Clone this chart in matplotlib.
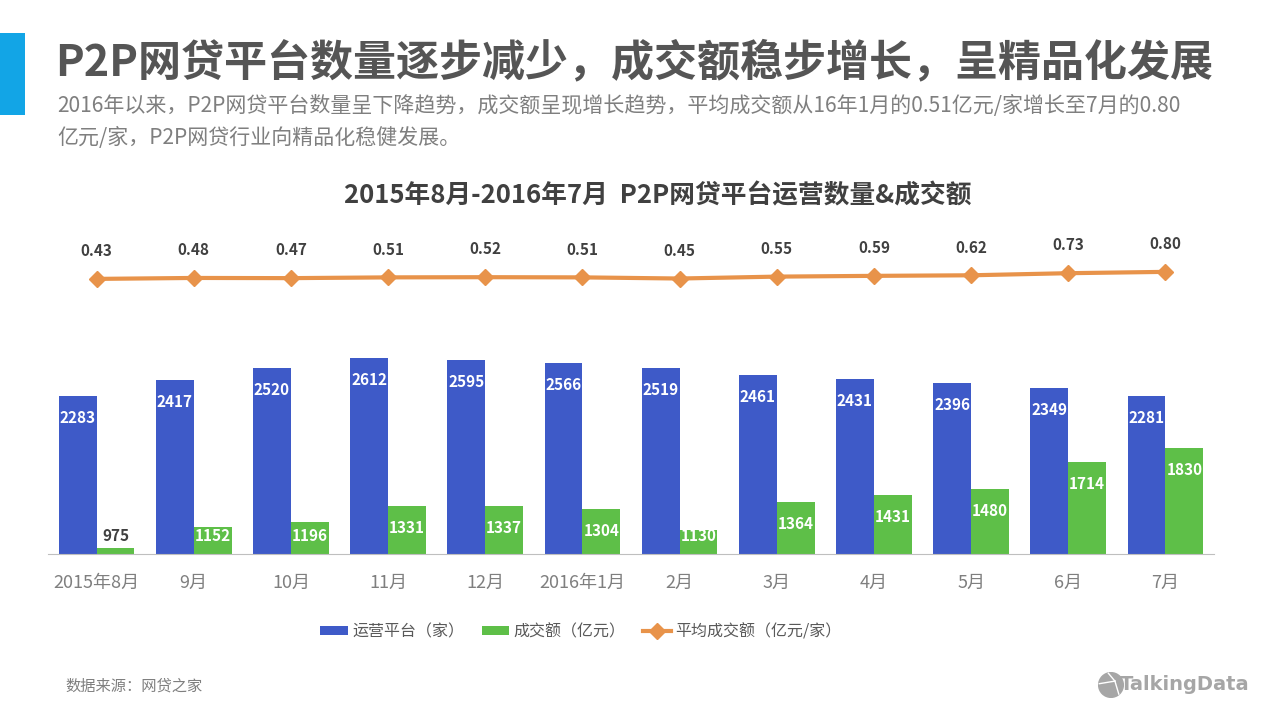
import matplotlib
matplotlib.use("Agg")
import matplotlib.pyplot as plt
from matplotlib.patches import Rectangle, Circle

plt.rcParams['font.family'] = ['Noto Sans CJK SC', 'DejaVu Sans']

months = ["2015年8月", "9月", "10月", "11月", "12月", "2016年1月",
          "2月", "3月", "4月", "5月", "6月", "7月"]
platforms = [2283, 2417, 2520, 2612, 2595, 2566, 2519, 2461, 2431, 2396, 2349, 2281]
volume = [975, 1152, 1196, 1331, 1337, 1304, 1130, 1364, 1431, 1480, 1714, 1830]
avg_volume = [0.43, 0.48, 0.47, 0.51, 0.52, 0.51, 0.45, 0.55, 0.59, 0.62, 0.73, 0.80]

blue = "#3E5AC8"
green = "#5EBF48"
orange = "#E8934A"

fig = plt.figure(figsize=(12.8, 7.2), dpi=100)
fig.patch.set_facecolor("white")

# header
fig.add_artist(Rectangle((0, 1 - 115 / 720), 25 / 1280, 82 / 720,
                         transform=fig.transFigure, color="#12A5E6", lw=0))
fig.text(55 / 1280, 1 - 62 / 720, "P2P网贷平台数量逐步减少，成交额稳步增长，呈精品化发展",
         fontsize=31, fontweight="heavy", color="#555555", va="center")
fig.text(57 / 1280, 1 - 106 / 720,
         "2016年以来，P2P网贷平台数量呈下降趋势，成交额呈现增长趋势，平均成交额从16年1月的0.51亿元/家增长至7月的0.80",
         fontsize=15.1, color="#7f7f7f", va="center")
fig.text(57 / 1280, 1 - 138 / 720, "亿元/家，P2P网贷行业向精品化稳健发展。",
         fontsize=15.1, color="#7f7f7f", va="center")
fig.text(658 / 1280, 1 - 196 / 720, "2015年8月-2016年7月  P2P网贷平台运营数量&成交额",
         fontsize=18.5, fontweight="bold", color="#404040", ha="center", va="center")

# bars
ax = fig.add_axes([48 / 1280, 166 / 720, 1166 / 1280, 334 / 720])
x = list(range(len(months)))
w = 0.39
lo, hi = 920, 3799
ax.bar([i - w / 2 for i in x], platforms, w, color=blue, label="运营平台（家）")
ax.bar([i + w / 2 for i in x], volume, w, color=green, label="成交额（亿元）")
ax.set_ylim(lo, hi)
ax.set_xlim(-0.5, len(months) - 0.5)

px = 334 / (hi - lo)  # pixels per unit
for i in x:
    for v, dx in ((platforms[i], -w / 2), (volume[i], w / 2)):
        y = max(v - 22 / px, lo + 18 / px)
        col = "white" if (v - lo) * px > 18 else "#404040"
        ax.text(i + dx, y, str(v), ha="center", va="center", fontsize=11,
                fontweight="bold", color=col)

for s in ["top", "right", "left"]:
    ax.spines[s].set_visible(False)
ax.spines["bottom"].set_color("#bfbfbf")
ax.set_yticks([])
ax.set_xticks(x)
ax.set_xticklabels(months, fontsize=13, color="#7f7f7f")
ax.tick_params(axis="x", length=0, pad=14)

# line
ax2 = ax.twinx()
ax2.plot(x, avg_volume, color=orange, lw=3, marker="D", markersize=8,
         label="平均成交额（亿元/家）")
ax2.set_ylim(-14.05, 3.53)
ax2.axis("off")
for i, v in zip(x, avg_volume):
    ax2.annotate(f"{v:.2f}", (i, v), xytext=(0, 20), textcoords="offset points",
                 ha="center", va="center", fontsize=11, fontweight="bold", color="#404040")

h1, l1 = ax.get_legend_handles_labels()
h2, l2 = ax2.get_legend_handles_labels()
leg = fig.legend(h1 + h2, l1 + l2, loc="center", bbox_to_anchor=(581 / 1280, 1 - 632 / 720),
                 ncol=3, frameon=False, fontsize=11.5, columnspacing=1.1,
                 handlelength=1.7, handletextpad=0.3, handleheight=0.5)
for t in leg.get_texts():
    t.set_color("#595959")

# footer
fig.text(65 / 1280, 1 - 686 / 720, "数据来源：网贷之家", fontsize=11, color="#7f7f7f", va="center")
fig.text(1250 / 1280, 1 - 685 / 720, "TalkingData", fontsize=14, fontweight="bold",
         color="#a6a6a6", ha="right", va="center",
         family=["Liberation Sans Narrow", "DejaVu Sans"])
lax = fig.add_axes([1098 / 1280, 1 - 698 / 720, 26 / 1280, 26 / 720])
lax.set_xlim(-1, 1)
lax.set_ylim(-1, 1)
lax.set_aspect("equal")
lax.axis("off")
lax.add_patch(Circle((0, 0), 0.95, color="#a6a6a6"))
lax.plot([-0.9, 0.3], [0.1, 0.3], color="white", lw=1)
lax.plot([0.3, 0.6], [0.3, -0.7], color="white", lw=1)
lax.plot([0.3, -0.2], [0.3, 0.9], color="white", lw=1)

fig.savefig("out.png", dpi=100, facecolor="white")
